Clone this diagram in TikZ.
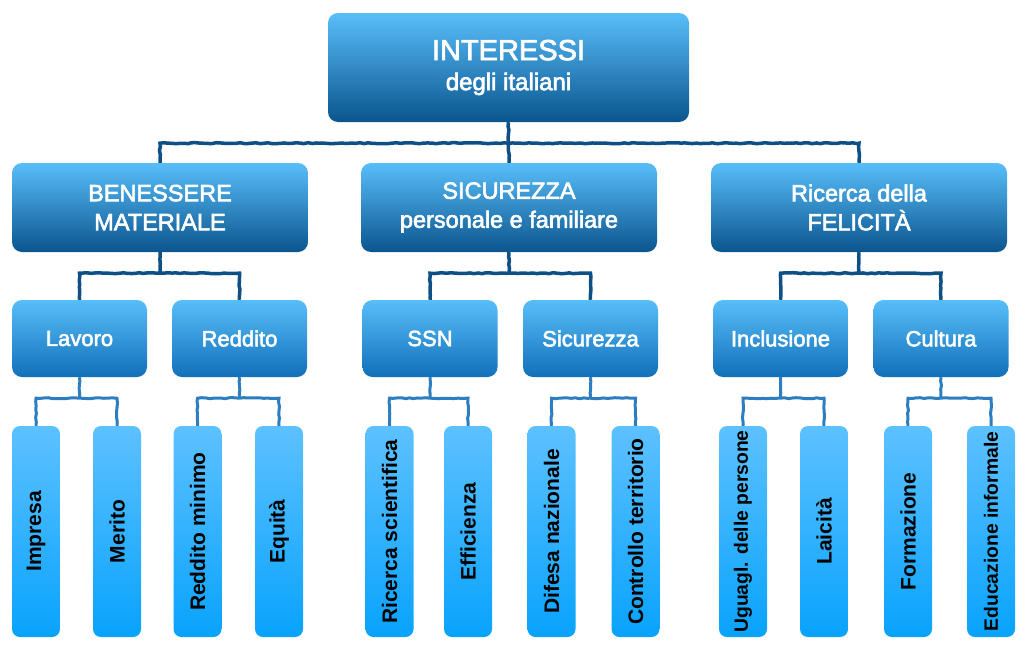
\documentclass[tikz,border=0pt]{standalone}
\usepackage{fontspec}
\setmainfont{Liberation Sans}
\newfontfamily\boxfont[FakeBold=2.5]{Liberation Sans}
\usetikzlibrary{decorations.pathmorphing}

\definecolor{boxtop}{HTML}{58BEFA}
\definecolor{boxbot}{HTML}{0B558E}
\definecolor{subbot}{HTML}{1170B9}
\definecolor{leaftop}{HTML}{5DC1FF}
\definecolor{leafbot}{HTML}{08A3FC}
\definecolor{linkdark}{HTML}{0E4F86}
\definecolor{linklight}{HTML}{2C7EC0}

\tikzset{
	topbox/.style={rounded corners=10pt, top color=boxtop, bottom color=boxbot, text=white, align=center, inner sep=0pt, minimum width=361pt, minimum height=109pt, font=\boxfont\fontsize{24}{30}\selectfont},
	midbox/.style={rounded corners=10pt, top color=boxtop, bottom color=boxbot, text=white, align=center, inner sep=0pt, minimum width=296pt, minimum height=89pt, font=\boxfont\fontsize{23.5}{29}\selectfont},
	subbox/.style={rounded corners=10pt, top color=boxtop, bottom color=subbot, text=white, align=center, inner sep=0pt, minimum width=135pt, minimum height=77pt, font=\boxfont\fontsize{22}{26}\selectfont},
	leafbox/.style={rounded corners=8pt, top color=leaftop, bottom color=leafbot, text=black, inner sep=0pt, minimum width=48pt, minimum height=211pt, font=\fontsize{21}{25}\selectfont\bfseries},
	longleaf/.style={leafbox, font=\fontsize{19.3}{23}\selectfont\bfseries},
	link/.style={draw=linkdark, line width=3.5pt, decorate, decoration={random steps, segment length=4pt, amplitude=0.5pt}},
	sublink/.style={link, draw=linklight, line width=3pt}
}

\begin{document}
\begin{tikzpicture}[x=1pt,y=-1pt]
	\useasboundingbox (0,0) rectangle (1022,653);

	% livelli superiori
	\node[topbox] (top) at (508.5,67.5) {{\fontsize{29}{30}\selectfont INTERESSI}\\degli italiani};
	\node[midbox] (ben) at (160,207.5) {BENESSERE\\MATERIALE};
	\node[midbox] (sic) at (509,207.5) {SICUREZZA\\personale e familiare};
	\node[midbox] (fel) at (859,207.5) {Ricerca della\\FELICIT\`A};

	\node[subbox] (lav) at (79.5,338.5) {Lavoro};
	\node[subbox] (red) at (239.5,338.5) {Reddito};
	\node[subbox] (ssn) at (430,338.5) {SSN};
	\node[subbox] (sicu) at (590.5,338.5) {Sicurezza};
	\node[subbox] (inc) at (780.5,338.5) {Inclusione};
	\node[subbox] (cul) at (941,338.5) {Cultura};

	% foglie
	\node[leafbox] (imp) at (36,531.5) {\rotatebox{90}{Impresa}};
	\node[leafbox] (mer) at (117,531.5) {\rotatebox{90}{Merito}};
	\node[leafbox] (rmin) at (197.5,531.5) {\rotatebox{90}{Reddito minimo}};
	\node[leafbox] (equ) at (279,531.5) {\rotatebox{90}{Equit\`a}};
	\node[leafbox] (ric) at (389.5,531.5) {\rotatebox{90}{Ricerca scientifica}};
	\node[leafbox] (eff) at (468,531.5) {\rotatebox{90}{Efficienza}};
	\node[leafbox] (dif) at (551.5,531.5) {\rotatebox{90}{Difesa nazionale}};
	\node[leafbox] (con) at (635.5,531.5) {\rotatebox{90}{Controllo territorio}};
	\node[longleaf] (ugu) at (743,531.5) {\rotatebox{90}{Uguagl. delle persone}};
	\node[leafbox] (lai) at (824,531.5) {\rotatebox{90}{Laicit\`a}};
	\node[leafbox] (for) at (908,531.5) {\rotatebox{90}{Formazione}};
	\node[longleaf] (edu) at (991,531.5) {\rotatebox{90}{Educazione informale}};

	% collegamenti
	\draw[link] (top.south) -- ++(0,21) coordinate (hub);
	\draw[link] (ben.north) |- (hub) -| (fel.north);
	\draw[link] (hub) -- (sic.north);
	\foreach \p/\a/\b in {ben/lav/red, sic/ssn/sicu, fel/inc/cul} {
		\draw[link] (\p.south) -- ++(0,21) coordinate (\p hub);
		\draw[link] (\a.north) |- (\p hub) -| (\b.north);
	}
	\foreach \p/\a/\b in {lav/imp/mer, red/rmin/equ, ssn/ric/eff, sicu/dif/con, inc/ugu/lai, cul/for/edu} {
		\draw[sublink] (\p.south) -- ++(0,21) coordinate (\p hub);
		\draw[sublink] (\a.north) |- (\p hub) -| (\b.north);
	}
\end{tikzpicture}
\end{document}
